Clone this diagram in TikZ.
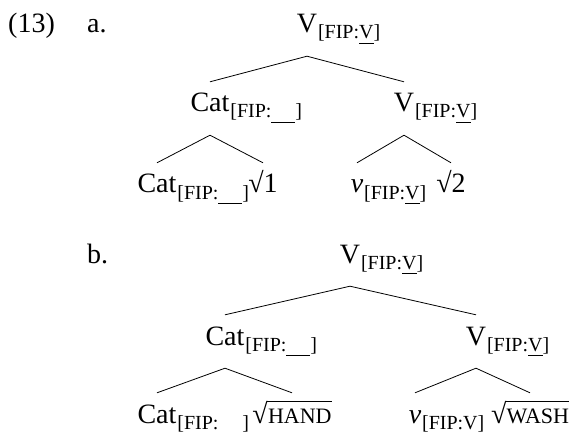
\documentclass[tikz,border=0pt]{standalone}
\usepackage{fontspec}
\setmainfont{Liberation Serif}
\newcommand{\mainsz}{\fontsize{28}{34}\selectfont}
\newcommand{\subsz}{\fontsize{20}{24}\selectfont}
\newcommand{\smallcapsz}{\fontsize{22}{24}\selectfont}
\newsavebox{\ulbox}
\newsavebox{\radbox}
\newsavebox{\radarg}
\newcommand{\ulx}[1]{\sbox{\ulbox}{#1}\rlap{\rule[-4.5pt]{\wd\ulbox}{0.8pt}}\usebox{\ulbox}}
\newcommand{\radx}[1]{\sbox{\radbox}{√}\sbox{\radarg}{\kern1pt#1}\usebox{\radbox}\kern-0.7pt\rlap{\rule[\dimexpr\ht\radbox-1pt\relax]{\wd\radarg}{1pt}}\usebox{\radarg}}
\newcommand{\fipv}{[FIP:\ulx{V}]}
\newcommand{\fipe}{[FIP:\ulx{\hspace{1.2em}}]}
\tikzset{
  head/.style={font=\mainsz, inner sep=0pt, text height=30pt, text depth=23pt, anchor=base},
  subs/.style={font=\subsz, inner sep=0pt, anchor=base west, xshift=0.5pt, yshift=-6pt},
  plain/.style={font=\mainsz, inner sep=0pt, anchor=base west},
  edge/.style={line width=0.8pt}
}
\begin{document}
\begin{tikzpicture}[x=1pt,y=-1pt]
\useasboundingbox (0,0) rectangle (581,433);
% labels
\node[plain] (ex) at (8,33) {(13)};
\node[plain] (la) at (87,33) {a.};
\node[plain] (lb) at (87,263) {b.};
% tree a
\node[head] (a0) at (307,33) {V};
\node[subs] (a0s) at (a0.base east) {\fipv};
\node[head] (a1) at (210,112) {Cat};
\node[subs] (a1s) at (a1.base east) {\fipe};
\node[head] (a2) at (404,112) {V};
\node[subs] (a2s) at (a2.base east) {\fipv};
\node[head] (a3) at (157,193) {Cat};
\node[subs] (a3s) at (a3.base east) {\fipe};
\node[head] (a4) at (263,193) {√1};
\node[head] (a5) at (357,193) {\textit{ν}};
\node[subs] (a5s) at (a5.base east) {\fipv};
\node[head] (a6) at (451,193) {√2};
\draw[edge] (a0.south) -- (a1.north);
\draw[edge] (a0.south) -- (a2.north);
\draw[edge] (a1.south) -- (a3.north);
\draw[edge] (a1.south) -- (a4.north);
\draw[edge] (a2.south) -- (a5.north);
\draw[edge] (a2.south) -- (a6.north);
% tree b
\node[head] (b0) at (350,263) {V};
\node[subs] (b0s) at (b0.base east) {\fipv};
\node[head] (b1) at (225,345) {Cat};
\node[subs] (b1s) at (b1.base east) {\fipe};
\node[head] (b2) at (476,345) {V};
\node[subs] (b2s) at (b2.base east) {\fipv};
\node[head] (b3) at (157,423) {Cat};
\node[subs] (b3s) at (b3.base east) {\fipe};
\node[head] (b4) at (292,423) {\radx{\smallcapsz HAND}};
\node[head] (b5) at (415,423) {\textit{ν}};
\node[subs] (b5s) at (b5.base east) {\fipv};
\node[head] (b6) at (530,423) {\radx{\smallcapsz WASH}};
\draw[edge] (b0.south) -- (b1.north);
\draw[edge] (b0.south) -- (b2.north);
\draw[edge] (b1.south) -- (b3.north);
\draw[edge] (b1.south) -- (b4.north);
\draw[edge] (b2.south) -- (b5.north);
\draw[edge] (b2.south) -- (b6.north);
\end{tikzpicture}
\end{document}
